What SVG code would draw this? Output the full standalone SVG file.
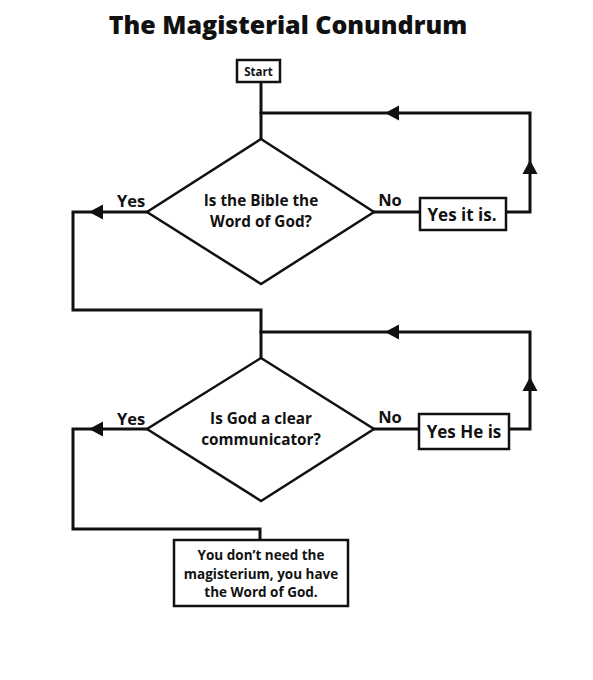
<svg xmlns="http://www.w3.org/2000/svg" xmlns:xlink="http://www.w3.org/1999/xlink" width="593" height="680" viewBox="0 0 593 680">
<style>
  .ln{fill:none;stroke:#111;stroke-width:3;stroke-linejoin:miter;stroke-linecap:square}
  .shape{fill:#fff;stroke:#111;stroke-width:2.5}
  .t{font-family:"Open Sans","Liberation Sans",sans-serif;font-weight:700;fill:#111;text-anchor:middle}
  .title{font-size:25px;font-weight:800}
  .q{font-size:15.3px}
  .lbl{font-size:16.5px}
  .box{font-size:17px}
  .end{font-size:13.5px}
  .sm{font-size:11.5px}
</style>
<defs>
  <path id="ah" d="M0,0 L14,-7.5 L14,7.5 Z" fill="#111"/>
</defs>
<rect width="593" height="680" fill="#fff"/>
<text class="t title" x="288" y="34">The Magisterial Conundrum</text>

<g id="connectors">
  <path class="ln" d="M261,83 V139"/>
  <path class="ln" d="M505,212 H530 V113 H261"/>
  <path class="ln" d="M374,212 H420"/>
  <path class="ln" d="M147,212 H73 V310 H261 V358"/>
  <path class="ln" d="M509,429 H530 V332 H261"/>
  <path class="ln" d="M374,429 H419"/>
  <path class="ln" d="M147,429 H73 V529 H260 V540"/>
  <use xlink:href="#ah" transform="translate(385,113)"/>
  <use xlink:href="#ah" transform="translate(530,160) rotate(90)"/>
  <use xlink:href="#ah" transform="translate(89,212)"/>
  <use xlink:href="#ah" transform="translate(385,332)"/>
  <use xlink:href="#ah" transform="translate(530,377) rotate(90)"/>
  <use xlink:href="#ah" transform="translate(89,429)"/>
  <text class="t lbl" x="131" y="207">Yes</text>
  <text class="t lbl" x="390" y="206">No</text>
  <text class="t lbl" x="131" y="425">Yes</text>
  <text class="t lbl" x="390" y="423">No</text>
</g>

<g id="start">
  <rect class="shape" x="237" y="60" width="43" height="22" stroke-width="2"/>
  <text class="t sm" x="258.5" y="75.5">Start</text>
</g>

<g id="q1">
  <polygon class="shape" points="261,139 374,212 261,284 147,212"/>
  <text class="t q" x="261" y="206">Is the Bible the</text>
  <text class="t q" x="261" y="226.5">Word of God?</text>
</g>

<g id="yes1">
  <rect class="shape" x="420" y="198" width="86" height="32" stroke-width="2"/>
  <text class="t box" x="462" y="220.5">Yes it is.</text>
</g>

<g id="q2">
  <polygon class="shape" points="261,358 374,429 261,501 147,429"/>
  <text class="t q" x="261" y="424">Is God a clear</text>
  <text class="t q" x="261" y="445">communicator?</text>
</g>

<g id="yes2">
  <rect class="shape" x="419" y="414" width="90" height="35" stroke-width="2"/>
  <text class="t box" x="464" y="438">Yes He is</text>
</g>

<g id="result">
  <rect class="shape" x="174" y="540" width="174" height="66" stroke-width="2.5"/>
  <text class="t end" x="261" y="560">You don’t need the</text>
  <text class="t end" x="261" y="579">magisterium, you have</text>
  <text class="t end" x="261" y="597">the Word of God.</text>
</g>
</svg>
